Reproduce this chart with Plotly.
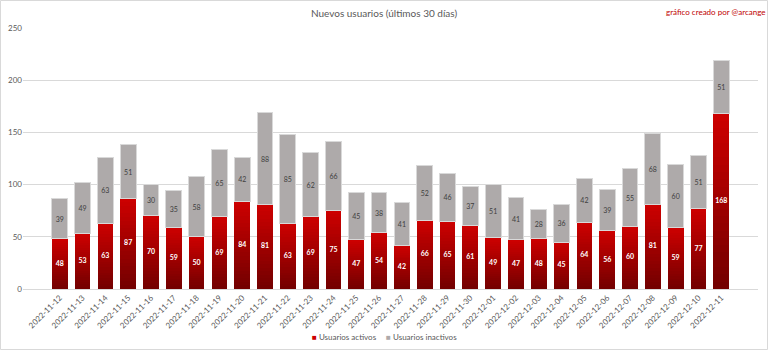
import plotly.graph_objects as go

dates = ["2022-11-12","2022-11-13","2022-11-14","2022-11-15","2022-11-16","2022-11-17",
         "2022-11-18","2022-11-19","2022-11-20","2022-11-21","2022-11-22","2022-11-23",
         "2022-11-24","2022-11-25","2022-11-26","2022-11-27","2022-11-28","2022-11-29",
         "2022-11-30","2022-12-01","2022-12-02","2022-12-03","2022-12-04","2022-12-05",
         "2022-12-06","2022-12-07","2022-12-08","2022-12-09","2022-12-10","2022-12-11"]
activos = [48,53,63,87,70,59,50,69,84,81,63,69,75,47,54,42,66,65,61,49,47,48,45,64,56,60,81,59,77,168]
inactivos = [39,49,63,51,30,35,58,65,42,88,85,62,66,45,38,41,52,46,37,51,41,28,36,42,39,55,68,60,51,51]
series_names = ["Usuarios activos", "Usuarios inactivos"]
series_colors = ["#cc0000", "#aeaaaa"]

FONT = "Lato"
fig = go.Figure()

# gradient for active bars: stack thin slices from dark (bottom) to bright (top)
N = 24
dark = (0x74, 0x00, 0x00)
bright = (0xcc, 0x00, 0x00)
for i in range(N):
    t = i / (N - 1)
    c = tuple(round(dark[k] + (bright[k] - dark[k]) * t) for k in range(3))
    col = "rgb(%d,%d,%d)" % c
    fig.add_trace(go.Bar(
        x=dates, y=[a / N for a in activos],
        marker=dict(color=col, line=dict(width=0)),
        name=series_names[0], showlegend=False, hoverinfo="skip",
    ))

fig.add_trace(go.Bar(
    x=dates, y=inactivos, name=series_names[1], showlegend=False,
    marker=dict(color=series_colors[1], line=dict(color="#d9d9d9", width=1)),
    text=[str(v) for v in inactivos], textposition="inside", insidetextanchor="middle",
    textangle=0, constraintext="none",
    textfont=dict(family=FONT, size=7, color="#404040"),
))

# labels for active bars
fig.add_trace(go.Scatter(
    x=dates, y=[a / 2 for a in activos], mode="text",
    text=["<b>%d</b>" % a for a in activos],
    textfont=dict(family=FONT, size=7, color="white"),
    showlegend=False, hoverinfo="skip",
))

legend_text = "\u2003\u2002".join(
    "<span style='color:%s'>■</span> %s" % (c, n) for n, c in zip(series_names, series_colors)
)

fig.update_layout(
    width=768, height=350,
    barmode="stack", bargap=0.31, showlegend=False,
    margin=dict(l=23, r=10, t=28, b=61, autoexpand=False),
    paper_bgcolor="white", plot_bgcolor="white",
    font=dict(family=FONT, size=8, color="#595959"),
    title=dict(text="Nuevos usuarios (últimos 30 días)", x=0.5, xanchor="center",
               y=1 - 13 / 350, yanchor="middle", yref="container",
               font=dict(family=FONT, size=10, color="#595959")),
    xaxis=dict(type="category", tickangle=-45, showgrid=False, showline=True,
               linecolor="#d9d9d9", ticks="", automargin=False,
               tickfont=dict(family=FONT, size=8, color="#595959")),
    yaxis=dict(range=[0, 250], dtick=50, showgrid=True, gridcolor="#d9d9d9",
               zeroline=False, ticks="", automargin=False,
               tickfont=dict(family=FONT, size=8, color="#595959")),
    annotations=[
        dict(text="gráfico creado por @arcange", xref="paper", yref="paper",
             x=1.012, y=1 + 16 / 261, xanchor="right", yanchor="middle",
             showarrow=False, font=dict(family=FONT, size=8, color="#c00000")),
        dict(text=legend_text, xref="paper", yref="paper",
             x=(384 - 23) / 735, y=-(337 - 289) / 261, xanchor="center", yanchor="middle",
             showarrow=False, font=dict(family=FONT, size=8, color="#595959")),
    ],
    shapes=[dict(type="rect", xref="paper", yref="paper",
                 x0=-22.5 / 735, x1=1 + 9.5 / 735, y0=-60.5 / 261, y1=1 + 27.5 / 261,
                 line=dict(color="#d9d9d9", width=1), fillcolor="rgba(0,0,0,0)", layer="below")],
)

fig.write_html("out.html")
